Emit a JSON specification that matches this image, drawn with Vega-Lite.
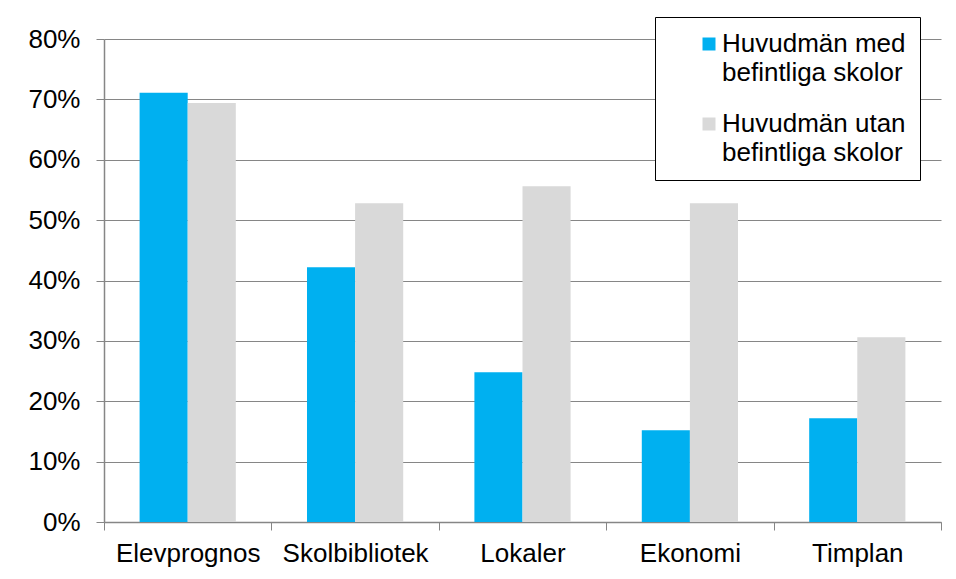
{
  "$schema": "https://vega.github.io/schema/vega-lite/v6.json",
  "width": 837,
  "height": 483,
  "autosize": "none",
  "padding": {"left": 104, "top": 39, "right": 15, "bottom": 57},
  "background": "white",
  "data": {
    "values": [
      {"kategori": "Elevprognos", "grupp": "Huvudmän med befintliga skolor", "andel": 0.711},
      {"kategori": "Elevprognos", "grupp": "Huvudmän utan befintliga skolor", "andel": 0.694},
      {"kategori": "Skolbibliotek", "grupp": "Huvudmän med befintliga skolor", "andel": 0.422},
      {"kategori": "Skolbibliotek", "grupp": "Huvudmän utan befintliga skolor", "andel": 0.528},
      {"kategori": "Lokaler", "grupp": "Huvudmän med befintliga skolor", "andel": 0.248},
      {"kategori": "Lokaler", "grupp": "Huvudmän utan befintliga skolor", "andel": 0.556},
      {"kategori": "Ekonomi", "grupp": "Huvudmän med befintliga skolor", "andel": 0.152},
      {"kategori": "Ekonomi", "grupp": "Huvudmän utan befintliga skolor", "andel": 0.528},
      {"kategori": "Timplan", "grupp": "Huvudmän med befintliga skolor", "andel": 0.172},
      {"kategori": "Timplan", "grupp": "Huvudmän utan befintliga skolor", "andel": 0.306}
    ]
  },
  "mark": {"type": "bar"},
  "encoding": {
    "x": {
      "field": "kategori",
      "type": "nominal",
      "sort": null,
      "scale": {"paddingInner": 0, "paddingOuter": 0},
      "axis": {
        "title": null,
        "labelAngle": 0,
        "tickBand": "extent",
        "labelFont": "Liberation Sans",
        "labelFontSize": 26,
        "labelColor": "black",
        "labelPadding": 10,
        "tickSize": 8,
        "tickColor": "#868686",
        "domainColor": "#868686",
        "domainWidth": 1.5,
        "grid": false
      }
    },
    "xOffset": {
      "field": "grupp",
      "type": "nominal",
      "sort": null,
      "scale": {"paddingInner": 0, "paddingOuter": 0.74}
    },
    "y": {
      "field": "andel",
      "type": "quantitative",
      "scale": {"domain": [0, 0.8], "nice": false},
      "axis": {
        "title": null,
        "format": ".0%",
        "values": [0, 0.1, 0.2, 0.3, 0.4, 0.5, 0.6, 0.7, 0.8],
        "labelFont": "Liberation Sans",
        "labelFontSize": 26,
        "labelColor": "black",
        "labelPadding": 16,
        "tickSize": 8,
        "tickColor": "#868686",
        "domainColor": "#868686",
        "domainWidth": 1.5,
        "gridColor": "#868686",
        "gridWidth": 1.2
      }
    },
    "color": {
      "field": "grupp",
      "type": "nominal",
      "sort": null,
      "scale": {
        "domain": ["Huvudmän med befintliga skolor", "Huvudmän utan befintliga skolor"],
        "range": ["#00B0F0", "#D9D9D9"]
      },
      "legend": {
        "title": null,
        "orient": "none",
        "legendX": 551,
        "legendY": -22,
        "direction": "vertical",
        "fillColor": "white",
        "strokeColor": "black",
        "padding": 14,
        "symbolType": "square",
        "symbolSize": 169,
        "symbolStrokeWidth": 0,
        "symbolOffset": 27,
        "labelOffset": 0,
        "labelFont": "Liberation Sans",
        "labelFontSize": 26,
        "labelColor": "black",
        "labelLimit": 400,
        "labelExpr": "datum.label == 'Huvudmän med befintliga skolor' ? ['Huvudmän med', 'befintliga skolor'] : ['Huvudmän utan', 'befintliga skolor']",
        "rowPadding": 25,
        "encode": {"labels": {"update": {"lineHeight": {"value": 29}}}}
      }
    }
  },
  "config": {
    "view": {"stroke": null},
    "font": "Liberation Sans"
  }
}
